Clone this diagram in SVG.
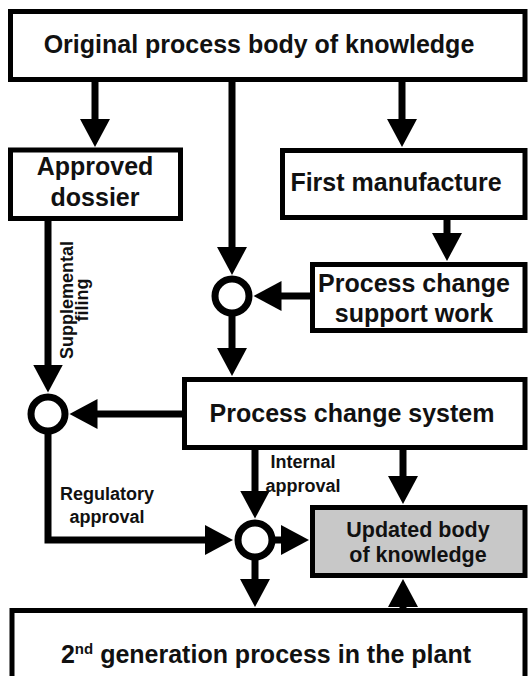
<svg xmlns="http://www.w3.org/2000/svg" width="528" height="676" viewBox="0 0 528 676">
<style>
.box{fill:#fff;stroke:#000;stroke-width:5}
.gray{fill:#c8c8c8}
.t{font-family:"Liberation Sans",Arial,sans-serif;font-weight:bold;font-size:25px;fill:#111;text-anchor:middle}
.t2{font-size:21.5px}
.lbl{font-family:"Liberation Sans",Arial,sans-serif;font-weight:bold;font-size:18px;fill:#111;text-anchor:middle}
.c{fill:none;stroke:#000;stroke-width:7;stroke-linejoin:miter}
.j{fill:#fff;stroke:#000;stroke-width:7}
</style>
<defs>
<marker id="ah" markerUnits="userSpaceOnUse" markerWidth="30" markerHeight="32" viewBox="0 -16 30 32" refX="1" refY="0" orient="auto">
<path d="M0,-15 L28,0 L0,15 Z" fill="#000"/>
</marker>
</defs>
<rect width="528" height="676" fill="#fff"/>
<g id="connectors">
<path class="c" d="M95 80 V120" marker-end="url(#ah)"/>
<path class="c" d="M232 80 V248" marker-end="url(#ah)"/>
<path class="c" d="M402 80 V120" marker-end="url(#ah)"/>
<path class="c" d="M447 218 V234" marker-end="url(#ah)"/>
<path class="c" d="M313 296 H280.5" marker-end="url(#ah)"/>
<path class="c" d="M232 316 V349" marker-end="url(#ah)"/>
<path class="c" d="M48 219 V365.5" marker-end="url(#ah)"/>
<path class="c" d="M185 414 H96.5" marker-end="url(#ah)"/>
<path class="c" d="M48 434 V540 H206" marker-end="url(#ah)"/>
<path class="c" d="M255 448 V491.5" marker-end="url(#ah)"/>
<path class="c" d="M274 540 H282" marker-end="url(#ah)"/>
<path class="c" d="M255 560 V580" marker-end="url(#ah)"/>
<path class="c" d="M403 448 V477" marker-end="url(#ah)"/>
<path class="c" d="M403 612 V606" marker-end="url(#ah)"/>
<text class="lbl" transform="translate(73,300) rotate(-90)">Supplemental</text>
<text class="lbl" transform="translate(88,300) rotate(-90)">filing</text>
<text class="lbl" x="303" y="468">Internal</text>
<text class="lbl" x="303" y="492">approval</text>
<text class="lbl" x="107" y="500">Regulatory</text>
<text class="lbl" x="107" y="523">approval</text>
</g>
<g id="j1"><circle class="j" cx="232" cy="296" r="17"/></g>
<g id="j2"><circle class="j" cx="48" cy="414" r="17"/></g>
<g id="j3"><circle class="j" cx="255" cy="540" r="17"/></g>
<g id="original">
<rect class="box" x="10.5" y="11.5" width="514.5" height="68"/>
<text class="t" x="259" y="53">Original process body of knowledge</text>
</g>
<g id="dossier">
<rect class="box" x="10.5" y="150" width="170" height="68.5"/>
<text class="t" x="95" y="175">Approved</text>
<text class="t" x="95" y="206">dossier</text>
</g>
<g id="firstmfg">
<rect class="box" x="282.5" y="150.5" width="242.5" height="67"/>
<text class="t" x="396" y="191">First manufacture</text>
</g>
<g id="support">
<rect class="box" x="312.5" y="264.5" width="212.5" height="66"/>
<text class="t" x="414" y="292">Process change</text>
<text class="t" x="414" y="322">support work</text>
</g>
<g id="pcs">
<rect class="box" x="184.5" y="379.5" width="340.5" height="68"/>
<text class="t" x="352" y="422">Process change system</text>
</g>
<g id="updated">
<rect class="box gray" x="312.5" y="507.5" width="212.5" height="68"/>
<text class="t t2" x="418" y="537">Updated body</text>
<text class="t t2" x="418" y="562">of knowledge</text>
</g>
<g id="secondgen">
<rect class="box" x="12" y="610.5" width="513" height="90"/>
<text class="t" x="266" y="663">2<tspan font-size="15" dy="-9">nd</tspan><tspan dy="9"> generation process in the plant</tspan></text>
</g>
</svg>
